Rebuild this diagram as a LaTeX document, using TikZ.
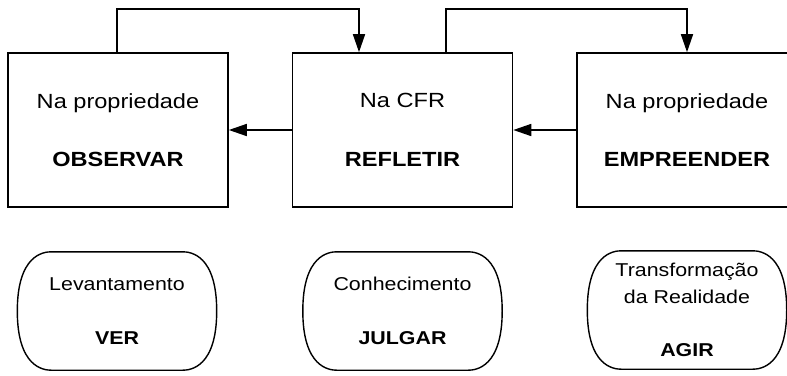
\documentclass[tikz,border=0pt]{standalone}
\usepackage{fontspec}
\setmainfont[FakeStretch=1.15]{Liberation Sans}
\usetikzlibrary{positioning,arrows.meta}

\begin{document}
\begin{tikzpicture}[x=1pt,y=1pt,every node/.style={align=center,inner sep=0pt},
	caixa/.style={draw,line width=1.6pt,minimum width=220pt,minimum height=154pt,font=\fontsize{20.5}{24.6}\selectfont},
	balao/.style={minimum width=199pt,minimum height=118pt,font=\fontsize{18.6}{22}\selectfont},
	seta/.style={line width=1.6pt,-{Triangle[length=18pt,width=12pt]}}]

\useasboundingbox (0,0) rectangle (787,-375);
\clip (0,0) rectangle (787,-375);

% caixas de cima
\node[caixa] (b1) at (118,-130) {Na propriedade\\[34pt]\textbf{OBSERVAR}};
\node[caixa] (b2) at (402.5,-130) {Na CFR\\[34pt]\textbf{REFLETIR}};
\node[caixa] (b3) at (687,-130) {Na propriedade\\[34pt]\textbf{EMPREENDER}};

% baloes de baixo
\node[balao] (o1) at (117,-311) {Levantamento\\[32pt]\textbf{VER}};
\node[balao] (o2) at (402.5,-311) {Conhecimento\\[32pt]\textbf{JULGAR}};
\node[balao] (o3) at (687,-310) {Transformação\\[5pt]da Realidade\\[31pt]\textbf{AGIR}};
\foreach \n in {o1,o2,o3}
	\draw[line width=1.4pt] ([xshift=34pt]\n.north west) -- ([xshift=-34pt]\n.north east)
		.. controls +(8,0) and +(0,56) .. (\n.east)
		.. controls +(0,-56) and +(8,0) .. ([xshift=-34pt]\n.south east)
		-- ([xshift=34pt]\n.south west)
		.. controls +(-8,0) and +(0,-56) .. (\n.west)
		.. controls +(0,56) and +(-8,0) .. ([xshift=34pt]\n.north west) -- cycle;

\coordinate (1) at (359,-9);
\coordinate (2) at (687,-9);
\draw[seta] ([xshift=-1pt]b1.north) |- (1) -- (1 |- b2.north);
\draw[seta] ([xshift=43.5pt]b2.north) |- (2) -- (2 |- b3.north);
\foreach \x/\y in {b2/b1,b3/b2}
	\draw[seta] (\x) -- (\y);
\end{tikzpicture}
\end{document}
